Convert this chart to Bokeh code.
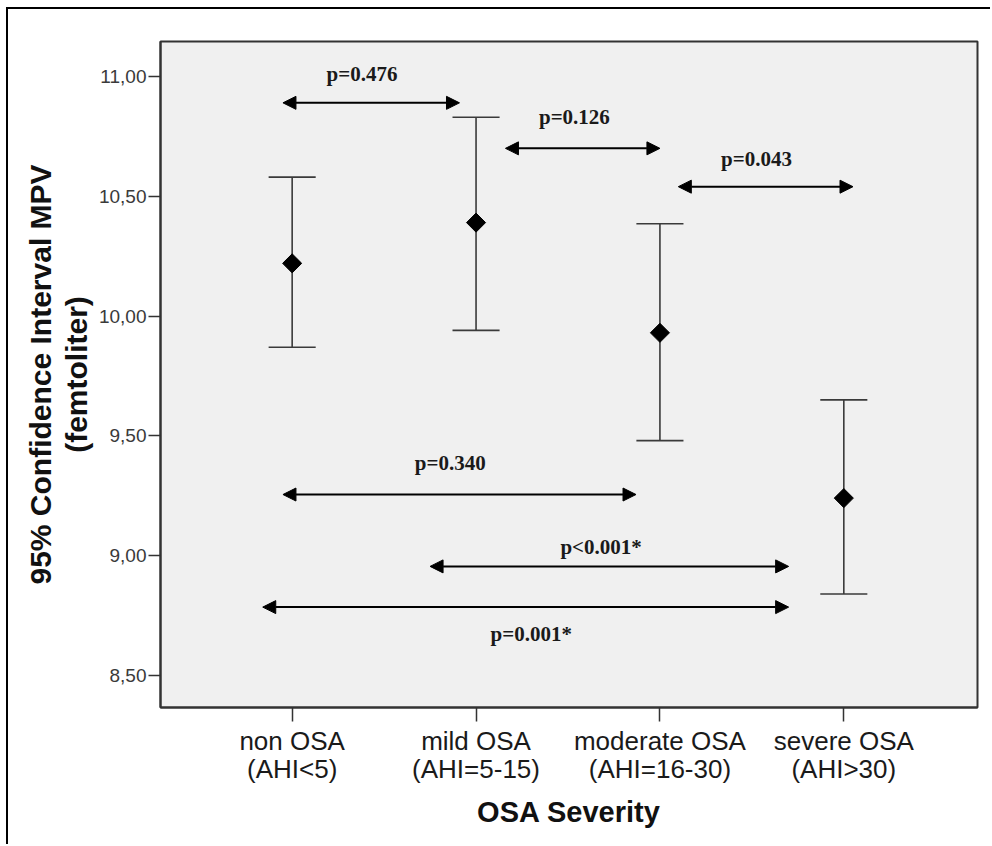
import numpy as np
from bokeh.plotting import figure
from bokeh.models import FixedTicker, Arrow, NormalHead, ColumnDataSource, Range1d
from bokeh.core.properties import value
from bokeh.embed import file_html
from bokeh.resources import INLINE

# ---- data ----
categories = ["non OSA\n(AHI<5)", "mild OSA\n(AHI=5-15)", "moderate OSA\n(AHI=16-30)", "severe OSA\n(AHI>30)"]
mpv_mean = [10.22, 10.39, 9.93, 9.24]
ci_lower = [9.87, 9.94, 9.48, 8.84]
ci_upper = [10.58, 10.83, 10.385, 9.65]
y_ticks = [8.5, 9.0, 9.5, 10.0, 10.5, 11.0]
y_tick_labels = ["8,50", "9,00", "9,50", "10,00", "10,50", "11,00"]

# pairwise comparison annotations
p_labels = ["p=0.476", "p=0.126", "p=0.043", "p=0.340", "p<0.001*", "p=0.001*"]
arrow_x0 = [-0.05, 1.16, 2.10, -0.05, 0.75, -0.16]
arrow_x1 = [0.91, 2.00, 3.05, 1.87, 2.70, 2.70]
arrow_y = [10.89, 10.70, 10.54, 9.255, 8.955, 8.785]
label_x = [0.38, 1.535, 2.525, 0.86, 1.68, 1.30]
label_y = [11.01, 10.83, 10.655, 9.386, 9.036, 8.674]

xs = list(range(len(categories)))

p = figure(width=984, height=837, output_backend="svg", toolbar_location=None,
           x_range=Range1d(-0.716, 3.727), y_range=Range1d(8.366, 11.146),
           min_border_left=152, min_border_right=15, min_border_top=32, min_border_bottom=139,
           styles={"margin-left": "6px", "margin-top": "7px",
                   "border-left": "2px solid black", "border-top": "2px solid black"})

p.background_fill_color = "#f0f0f0"
p.border_fill_color = "white"
p.outline_line_color = "#333333"
p.outline_line_width = 2
p.grid.visible = False

# axes
p.xaxis.ticker = FixedTicker(ticks=xs)
p.xaxis.major_label_overrides = {i: c for i, c in zip(xs, categories)}
p.yaxis.ticker = FixedTicker(ticks=y_ticks)
p.yaxis.major_label_overrides = {t: l for t, l in zip(y_ticks, y_tick_labels)}

for ax in (p.xaxis, p.yaxis):
    ax.axis_line_color = "#333333"
    ax.axis_line_width = 2
    ax.major_tick_line_color = "#333333"
    ax.major_tick_line_width = 1.5
    ax.major_tick_in = 0
    ax.minor_tick_line_color = None
    ax.major_label_text_font = "Liberation Sans"
    ax.axis_label_text_font = "Liberation Sans"
    ax.axis_label_text_font_style = "bold"
    ax.axis_label_text_color = "#111111"

p.yaxis.major_tick_out = 12
p.xaxis.major_tick_out = 14
p.yaxis.major_label_text_font_size = "19px"
p.yaxis.major_label_text_color = "#3a3a3a"
p.yaxis.major_label_standoff = 2
p.xaxis.major_label_text_font_size = "26px"
p.xaxis.major_label_text_color = "#1a1a1a"
p.xaxis.major_label_text_line_height = 0.95
p.xaxis.major_label_standoff = 4

p.xaxis.axis_label = "OSA Severity"
p.xaxis.axis_label_text_font_size = "29px"
p.xaxis.axis_label_standoff = 9
p.yaxis.axis_label = "95% Confidence Interval MPV\n(femtoliter)"
p.yaxis.axis_label_text_font_size = "30px"
p.yaxis.axis_label_text_line_height = 1.1
p.yaxis.axis_label_standoff = 3

# error bars
cap = 0.128
bar_color = "#3a3a3a"
p.segment(x0=xs, y0=ci_lower, x1=xs, y1=ci_upper, line_color=bar_color, line_width=1.6)
p.segment(x0=[x - cap for x in xs], y0=ci_upper, x1=[x + cap for x in xs], y1=ci_upper,
          line_color=bar_color, line_width=1.6)
p.segment(x0=[x - cap for x in xs], y0=ci_lower, x1=[x + cap for x in xs], y1=ci_lower,
          line_color=bar_color, line_width=1.6)
p.scatter(xs, mpv_mean, marker="square", angle=np.pi / 4, size=13.5,
          fill_color="black", line_color="black")

# comparison arrows
src = ColumnDataSource(dict(x0=arrow_x0, x1=arrow_x1, y=arrow_y))
p.add_layout(Arrow(start=NormalHead(size=13, fill_color="black", line_color="black"),
                   end=NormalHead(size=13, fill_color="black", line_color="black"),
                   x_start="x0", y_start="y", x_end="x1", y_end="y", source=src,
                   line_width=2, line_color="black"))
p.text(x=label_x, y=label_y, text=p_labels, text_font=value("Liberation Serif"),
       text_font_style="bold", text_font_size="21px", text_align="center",
       text_baseline="middle", text_color="#1a1a1a")

open("out.html", "w").write(file_html(p, INLINE))
